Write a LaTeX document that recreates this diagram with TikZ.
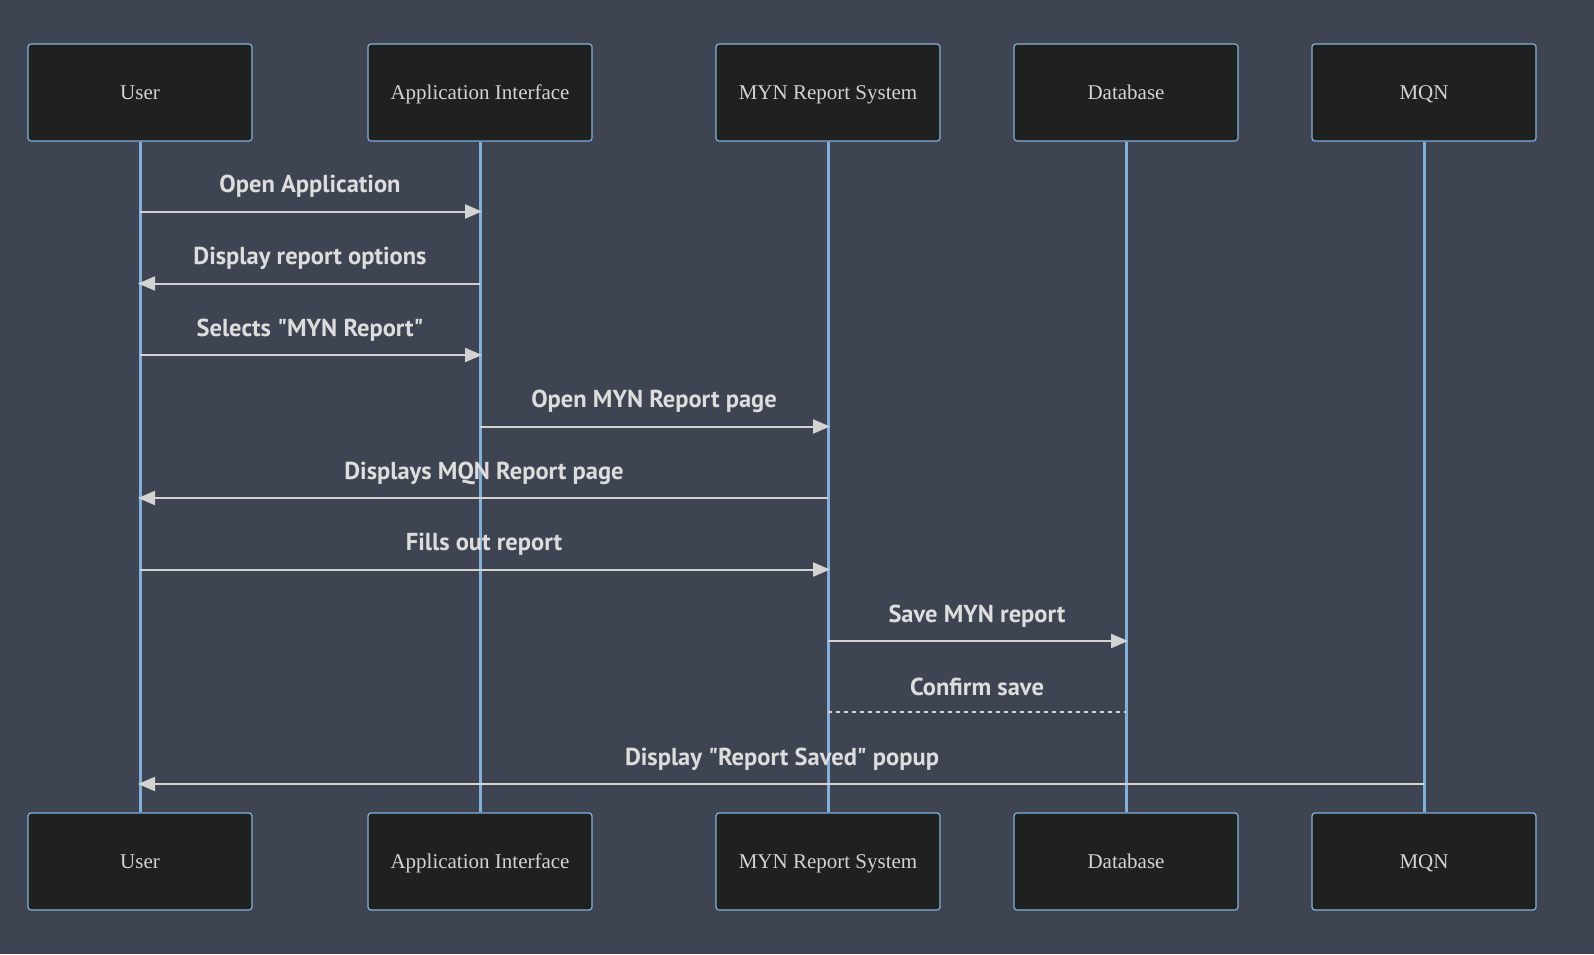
\documentclass[tikz,border=0pt]{standalone}
\usepackage{fontspec}
\setmainfont{Liberation Serif}
\newfontfamily\msgfont{PT Sans}
\usetikzlibrary{arrows.meta}
\definecolor{seqbg}{RGB}{63,68,82}
\definecolor{seqactor}{RGB}{31,32,32}
\definecolor{seqborder}{RGB}{129,177,219}
\definecolor{seqline}{RGB}{211,211,211}
\definecolor{seqtext}{RGB}{221,221,221}

\begin{document}
\begin{tikzpicture}[x=1pt, y=-1pt,
  actor/.style={draw=seqborder, fill=seqactor, line width=1.2pt, rounded corners=3pt, minimum width=224pt, minimum height=97pt, inner sep=0pt, text height=16pt, text depth=3pt, text=seqline, font=\fontsize{21}{25}\selectfont},
  life/.style={draw=seqborder, line width=3pt},
  msg/.style={draw=seqline, line width=2pt, -{Triangle[length=17pt, width=14pt]}, shorten >=-2pt},
  reply/.style={draw=seqline, line width=2pt, dash pattern=on 4pt off 4pt},
  lab/.style={text=seqtext, font=\msgfont\bfseries\fontsize{24.5}{28}\selectfont, midway, yshift=25pt}
]
\fill[seqbg] (0,0) rectangle (1594,954);
\useasboundingbox (0,0) rectangle (1594,954);

% Participants (top)
\node[actor] (user) at (140,92.5) {User};
\node[actor] (app) at (480,92.5) {Application Interface};
\node[actor] (myn) at (828,92.5) {MYN Report System};
\node[actor] (db) at (1126,92.5) {Database};
\node[actor] (mqn) at (1424,92.5) {MQN};

% Participants (bottom)
\node[actor] (userB) at (140,861.5) {User};
\node[actor] (appB) at (480,861.5) {Application Interface};
\node[actor] (mynB) at (828,861.5) {MYN Report System};
\node[actor] (dbB) at (1126,861.5) {Database};
\node[actor] (mqnB) at (1424,861.5) {MQN};

% Lifelines
\draw[life] (user) -- (userB);
\draw[life] (app) -- (appB);
\draw[life] (myn) -- (mynB);
\draw[life] (db) -- (dbB);
\draw[life] (mqn) -- (mqnB);

% Messages
\draw[msg] (user |- 0,211.5) -- (app |- 0,211.5) node[lab] {Open Application};
\draw[msg] (app |- 0,283.5) -- (user |- 0,283.5) node[lab] {Display report options};
\draw[msg] (user |- 0,355) -- (app |- 0,355) node[lab] {Selects "MYN Report"};
\draw[msg] (app |- 0,426.5) -- (myn |- 0,426.5) node[lab] {Open MYN Report page};
\draw[msg] (myn |- 0,498) -- (user |- 0,498) node[lab] {Displays MQN Report page};
\draw[msg] (user |- 0,569.5) -- (myn |- 0,569.5) node[lab] {Fills out report};
\draw[msg] (myn |- 0,641) -- (db |- 0,641) node[lab] {Save MYN report};
\draw[reply] (myn |- 0,712) -- (db |- 0,712) node[lab] {Confirm save};
\draw[msg] (mqn |- 0,784) -- (user |- 0,784) node[lab] {Display "Report Saved" popup};

\end{tikzpicture}
\end{document}
